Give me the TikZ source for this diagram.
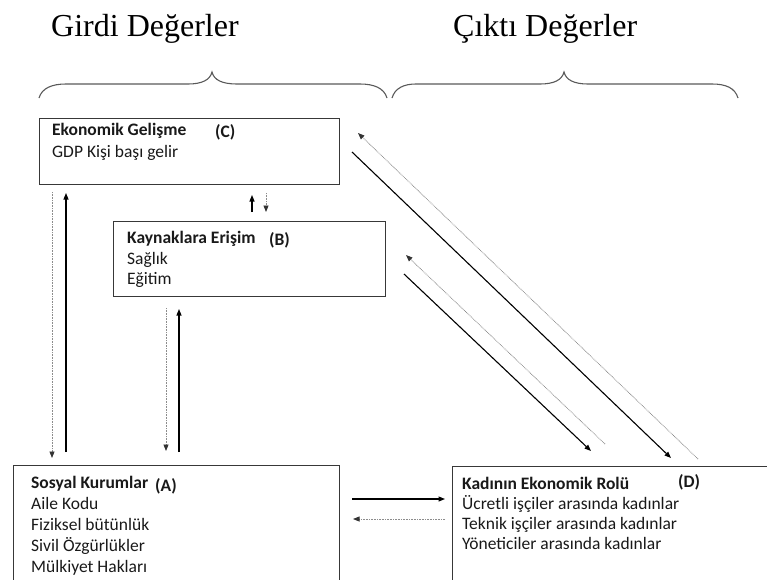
\documentclass[tikz,border=0pt]{standalone}
\usepackage{fontspec}
\usetikzlibrary{arrows.meta}
\newfontfamily\boxfont{Carlito}
\newfontfamily\titlefont{Liberation Serif}
\begin{document}
\begin{tikzpicture}[x=1pt,y=-1pt,
  boxshape/.style={draw=black!78,line width=1.3pt,inner sep=0pt,anchor=north west,fill=none},
  txt/.style={anchor=base west,inner sep=0pt,font=\boxfont\fontsize{17.5}{20}\selectfont,text=black!90},
  bold/.style={txt,font=\boxfont\bfseries\fontsize{17.5}{20}\selectfont},
  ttl/.style={anchor=base west,inner sep=0pt,font=\titlefont\fontsize{32}{36}\selectfont},
  brace/.style={draw=black!65,line width=1.1pt},
  solidarr/.style={draw=black,line width=1.1pt,-{Triangle[length=6.5pt,width=5pt]}},
  dotarr/.style={draw=black!45,line width=0.8pt,dash pattern=on 0.8pt off 0.8pt,-{Triangle[length=6.5pt,width=5pt,color=black!80]}}
]
\clip (0,0) rectangle (767,579);
\useasboundingbox (0,0) rectangle (767,579);

% titles
\node[ttl] (tin) at (51,36) {Girdi Değerler};
\node[ttl] (tout) at (453,36) {Çıktı Değerler};

% braces
\draw[brace] (39,98) .. controls (42,88) and (52,84) .. (66,84) -- (188,84)
  .. controls (202,84) and (210,80) .. (212,72)
  .. controls (214,80) and (222,84) .. (237,84) -- (360,84)
  .. controls (374,84) and (384,88) .. (387,98);
\draw[brace] (392,98) .. controls (395,88) and (404,84) .. (416,84) -- (540,84)
  .. controls (554,84) and (562,80) .. (564,72)
  .. controls (566,80) and (574,84) .. (588,84) -- (712,84)
  .. controls (726,84) and (735,88) .. (738,98);

% boxes
\node[boxshape,minimum width=300pt,minimum height=66pt] (C) at (39,118) {};
\node[boxshape,minimum width=272pt,minimum height=75pt] (B) at (113,221) {};
\node[boxshape,minimum width=326pt,minimum height=140pt] (A) at (13,465) {};
\node[boxshape,minimum width=320pt,minimum height=140pt] (D) at (452,466) {};

% box C text
\node[bold] (c1) at (52,135) {Ekonomik Gelişme};
\node[bold] (cl) at (215,137) {(C)};
\node[txt] (c2) at (52,157) {GDP Kişi başı gelir};

% box B text
\node[bold] (b1) at (127,243) {Kaynaklara Erişim};
\node[bold] (bl) at (269,245) {(B)};
\node[txt] (b2) at (127,264) {Sağlık};
\node[txt] (b3) at (127,284) {Eğitim};

% box A text
\node[bold] (a1) at (31,488) {Sosyal Kurumlar};
\node[bold] (al) at (155,491) {(A)};
\node[txt] (a2) at (31,509) {Aile Kodu};
\node[txt] (a3) at (31,530) {Fiziksel bütünlük};
\node[txt] (a4) at (31,551) {Sivil Özgürlükler};
\node[txt] (a5) at (31,572) {Mülkiyet Hakları};

% box D text
\node[bold] (d1) at (462,489) {Kadının Ekonomik Rolü};
\node[bold] (dl) at (678,487) {(D)};
\node[txt] (d2) at (462,509) {Ücretli işçiler arasında kadınlar};
\node[txt] (d3) at (462,529) {Teknik işçiler arasında kadınlar};
\node[txt] (d4) at (462,549) {Yöneticiler arasında kadınlar};

% connector end points
\coordinate (ca1) at (52,192);  \coordinate (ca2) at (52,458);
\coordinate (ac1) at (66,452);  \coordinate (ac2) at (66,193);
\coordinate (bc1) at (252,212); \coordinate (bc2) at (252,195);
\coordinate (cb1) at (266,193); \coordinate (cb2) at (266,212);
\coordinate (ba1) at (166,308); \coordinate (ba2) at (166,451);
\coordinate (ab1) at (179,452); \coordinate (ab2) at (179,309);
\coordinate (ad1) at (352,499); \coordinate (ad2) at (445,499);
\coordinate (da1) at (445,519); \coordinate (da2) at (353,519);
\coordinate (cd1) at (352,152); \coordinate (cd2) at (671,458);
\coordinate (dc1) at (698,459); \coordinate (dc2) at (358,133);
\coordinate (bd1) at (404,274); \coordinate (bd2) at (591,451);
\coordinate (db1) at (605,444); \coordinate (db2) at (406,255);

\draw[dotarr] (ca1) -- (ca2);
\draw[solidarr] (ac1) -- (ac2);
\draw[solidarr] (bc1) -- (bc2);
\draw[dotarr] (cb1) -- (cb2);
\draw[dotarr] (ba1) -- (ba2);
\draw[solidarr] (ab1) -- (ab2);
\draw[solidarr] (ad1) -- (ad2);
\draw[dotarr] (da1) -- (da2);
\draw[solidarr] (cd1) -- (cd2);
\draw[dotarr] (dc1) -- (dc2);
\draw[solidarr] (bd1) -- (bd2);
\draw[dotarr] (db1) -- (db2);
\end{tikzpicture}
\end{document}
